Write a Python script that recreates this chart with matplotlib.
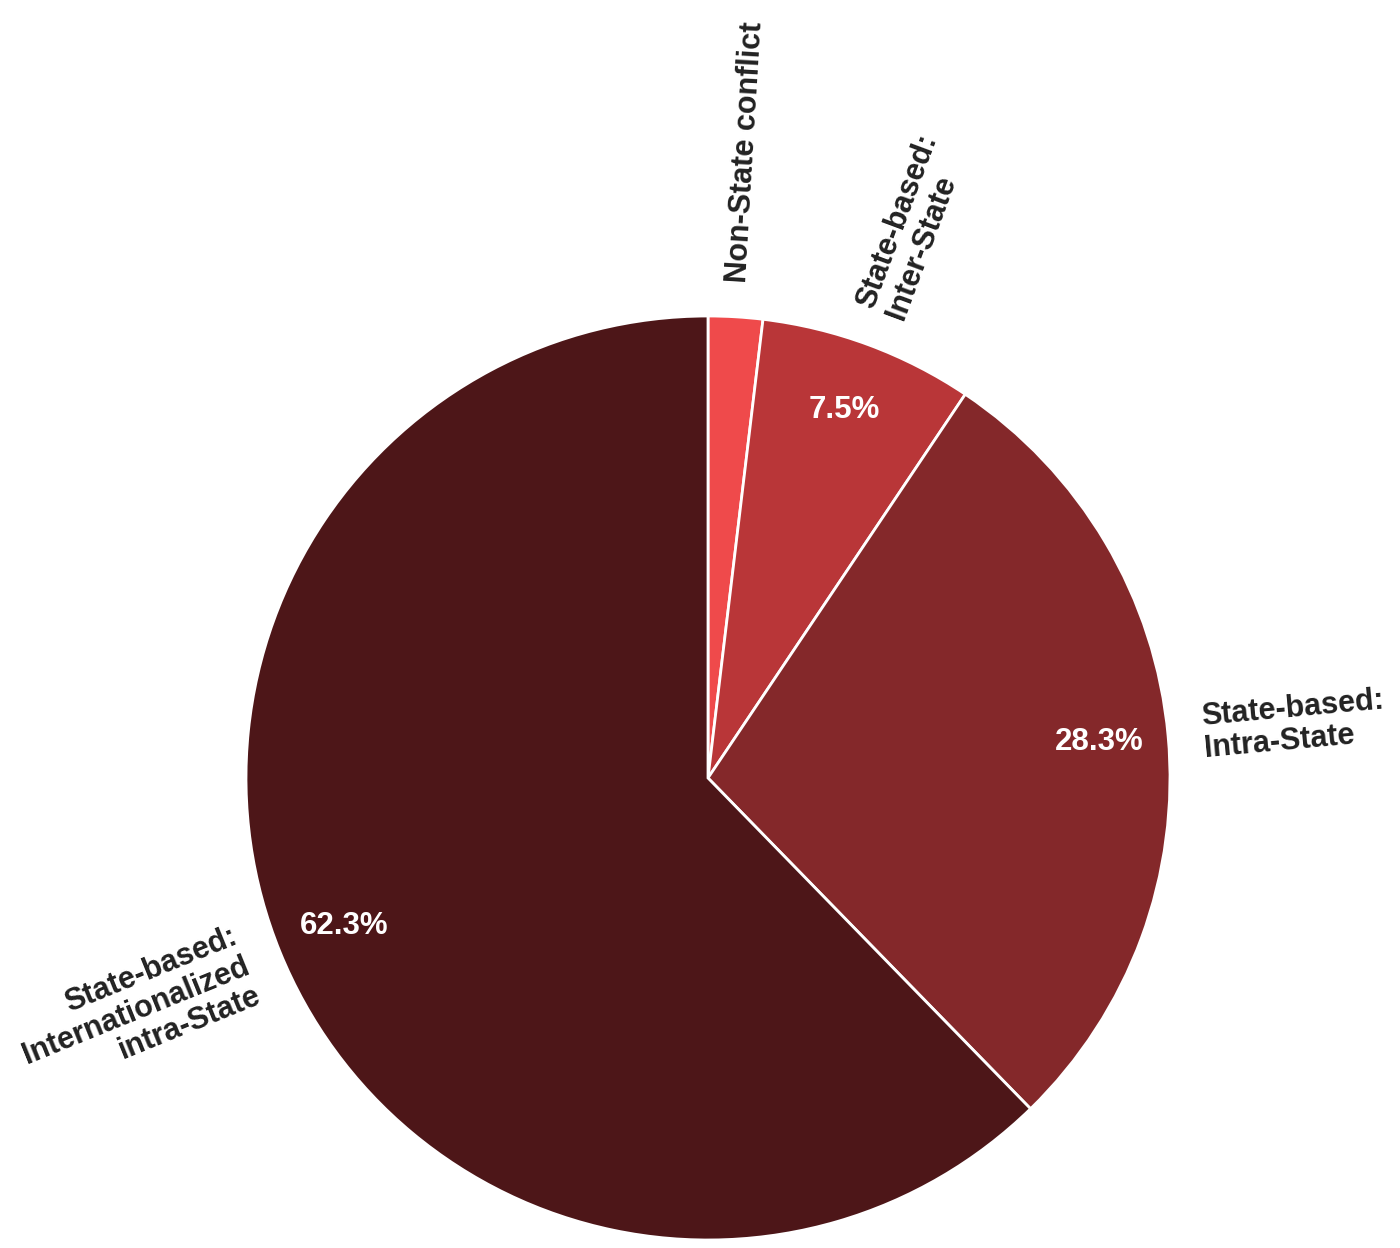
import numpy as np
import matplotlib
matplotlib.use("Agg")
import matplotlib.pyplot as plt

# conflict share data
labels = ["Non-State conflict", "State-based:\nInter-State", "State-based:\nIntra-State",
          "State-based:\nInternationalized\nintra-State"]
shares = [1.9, 7.5, 28.3, 62.3]
colors = ["#ef4a4b", "#b93638", "#84282a", "#4d1618"]

plt.rcParams['font.family'] = ['Liberation Sans', 'DejaVu Sans']

fig = plt.figure(figsize=(14, 12.48), dpi=100)
ax = fig.add_axes([0, 0, 1, 1])
ax.set_aspect('equal')

cx, cy, r = 708, 470, 462

def pct_fmt(p):
    return f"{p:.1f}%" if p >= 5 else ""

wedges, texts, autotexts = ax.pie(
    shares, colors=colors, startangle=90, counterclock=False,
    center=(cx, cy), radius=r, autopct=pct_fmt, pctdistance=0.85,
    wedgeprops=dict(edgecolor="white", linewidth=2),
    textprops=dict(color="white", fontsize=22.5, fontweight="bold"),
    frame=True)
ax.set_xlim(0, 1400)
ax.set_ylim(0, 1248)
ax.axis('off')

# rotated category labels just outside each wedge
for w, lab in zip(wedges, labels):
    ang = (w.theta1 + w.theta2) / 2
    rad = np.deg2rad(ang)
    x = cx + 1.075 * r * np.cos(rad)
    y = cy + 1.075 * r * np.sin(rad)
    if np.cos(rad) >= 0:
        rot, ha = ang, "left"
    else:
        rot, ha = ang + 180, "right"
    ax.text(x, y, lab, rotation=rot, rotation_mode="anchor", ha=ha, va="center",
            multialignment=ha, fontsize=22, fontweight="bold", color="#222222",
            linespacing=1.08)

fig.savefig("out.png", dpi=100)
